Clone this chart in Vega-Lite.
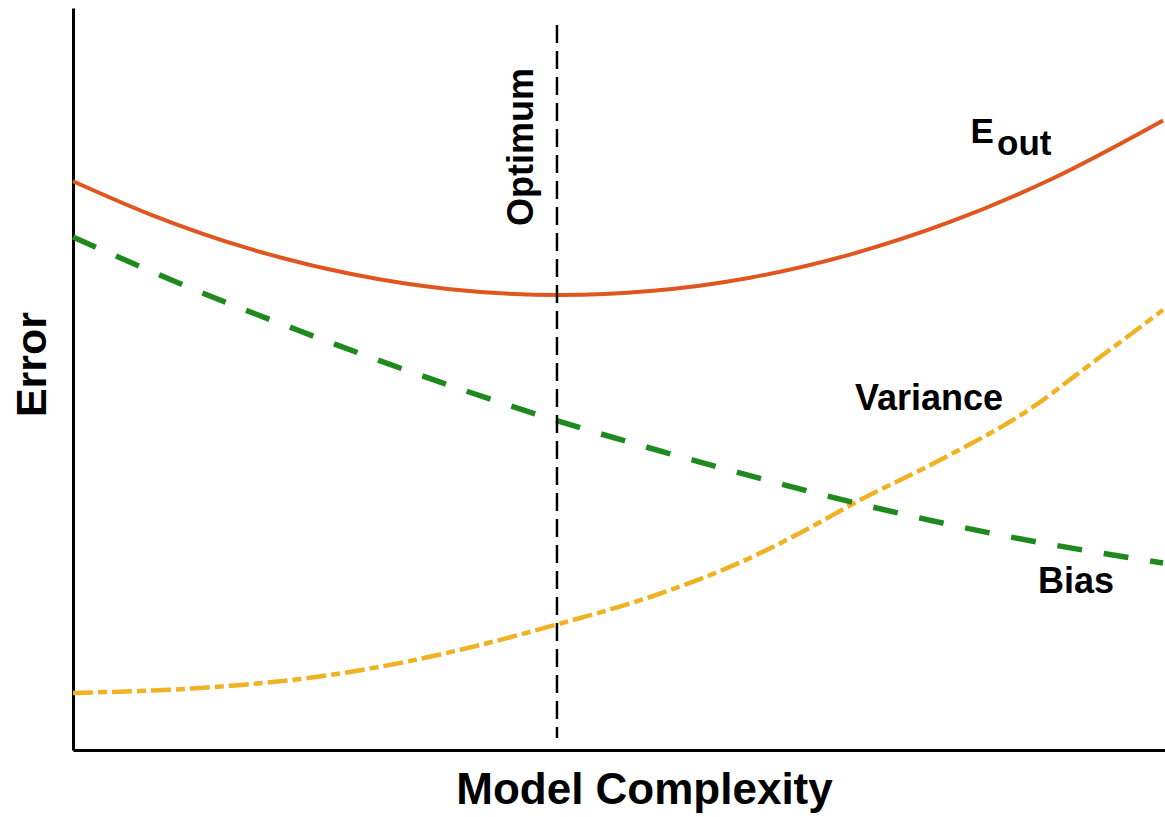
{
  "$schema": "https://vega.github.io/schema/vega-lite/v6.json",
  "width": 1092,
  "height": 742,
  "autosize": "none",
  "padding": {"left": 73, "top": 8, "right": 0, "bottom": 67},
  "background": "white",
  "config": {"view": {"stroke": null}, "font": "Liberation Sans"},
  "datasets": {
    "eout": [
      {"x": 0, "y": 7.666}, {"x": 0.705, "y": 7.22}, {"x": 1.621, "y": 6.753}, {"x": 2.537, "y": 6.418},
      {"x": 3.452, "y": 6.21}, {"x": 4.46, "y": 6.132}, {"x": 5.284, "y": 6.185}, {"x": 6.2, "y": 6.365},
      {"x": 7.115, "y": 6.677}, {"x": 8.031, "y": 7.116}, {"x": 8.947, "y": 7.685}, {"x": 9.982, "y": 8.484}
    ],
    "bias": [
      {"x": 0, "y": 6.914}, {"x": 1.163, "y": 6.173}, {"x": 2.079, "y": 5.647}, {"x": 2.995, "y": 5.148},
      {"x": 4.414, "y": 4.447}, {"x": 5.742, "y": 3.881}, {"x": 7.207, "y": 3.315}, {"x": 8.489, "y": 2.898},
      {"x": 9.982, "y": 2.52}
    ],
    "variance": [
      {"x": 0, "y": 0.768}, {"x": 1.163, "y": 0.836}, {"x": 2.079, "y": 0.957}, {"x": 2.995, "y": 1.173},
      {"x": 3.727, "y": 1.415}, {"x": 4.414, "y": 1.685}, {"x": 5.284, "y": 2.062}, {"x": 6.2, "y": 2.588},
      {"x": 6.658, "y": 2.925}, {"x": 7.207, "y": 3.369}, {"x": 7.94, "y": 3.908}, {"x": 8.791, "y": 4.623},
      {"x": 9.222, "y": 5.094}, {"x": 9.982, "y": 5.93}
    ],
    "optimum": [{"x": 4.432, "y": 9.771, "y2": 0.162}],
    "optlabel": [{"x": 4.212, "y": 8.127, "label": "Optimum"}],
    "curvelabels": [
      {"x": 7.161, "y": 4.582, "label": "Variance"},
      {"x": 8.837, "y": 2.116, "label": "Bias"}
    ],
    "elabel": [{"x": 8.22, "y": 8.181, "label": "E"}],
    "sublabel": [{"x": 8.462, "y": 8.019, "label": "out"}]
  },
  "encoding": {
    "x": {
      "field": "x", "type": "quantitative",
      "scale": {"domain": [0, 10], "nice": false, "zero": false},
      "axis": {
        "title": "Model Complexity", "titleFontSize": 44, "titleFontWeight": "bold", "titleColor": "black",
        "titleFont": "Liberation Sans", "titlePadding": 18, "titleX": 571,
        "ticks": false, "labels": false, "grid": false,
        "domainColor": "black", "domainWidth": 3
      }
    },
    "y": {
      "field": "y", "type": "quantitative",
      "scale": {"domain": [0, 10], "nice": false, "zero": false},
      "axis": {
        "title": "Error", "titleFontSize": 43, "titleFontWeight": "bold", "titleColor": "black",
        "titleFont": "Liberation Sans", "titlePadding": 19, "titleY": 356,
        "ticks": false, "labels": false, "grid": false,
        "domainColor": "black", "domainWidth": 3
      }
    }
  },
  "layer": [
    {
      "data": {"name": "variance"},
      "mark": {"type": "line", "interpolate": "monotone", "color": "#F0B222", "strokeWidth": 4.5, "strokeDash": [20, 5, 9, 5]}
    },
    {
      "data": {"name": "bias"},
      "mark": {"type": "line", "interpolate": "monotone", "color": "#1E8A1E", "strokeWidth": 5.5, "strokeDash": [25, 22]}
    },
    {
      "data": {"name": "eout"},
      "mark": {"type": "line", "interpolate": "monotone", "color": "#E0561F", "strokeWidth": 4}
    },
    {
      "data": {"name": "optimum"},
      "mark": {"type": "rule", "color": "black", "strokeWidth": 2.5, "strokeDash": [18, 8]},
      "encoding": {"y2": {"field": "y2"}}
    },
    {
      "data": {"name": "optlabel"},
      "mark": {"type": "text", "angle": 270, "align": "center", "baseline": "alphabetic", "fontSize": 36, "fontWeight": "bold", "color": "black"},
      "encoding": {"text": {"field": "label"}}
    },
    {
      "data": {"name": "curvelabels"},
      "mark": {"type": "text", "align": "left", "baseline": "alphabetic", "fontSize": 36, "fontWeight": "bold", "color": "black"},
      "encoding": {"text": {"field": "label"}}
    },
    {
      "data": {"name": "elabel"},
      "mark": {"type": "text", "align": "left", "baseline": "alphabetic", "fontSize": 35, "fontWeight": "bold", "color": "black"},
      "encoding": {"text": {"field": "label"}}
    },
    {
      "data": {"name": "sublabel"},
      "mark": {"type": "text", "align": "left", "baseline": "alphabetic", "fontSize": 35, "fontWeight": "bold", "color": "black"},
      "encoding": {"text": {"field": "label"}}
    }
  ]
}
